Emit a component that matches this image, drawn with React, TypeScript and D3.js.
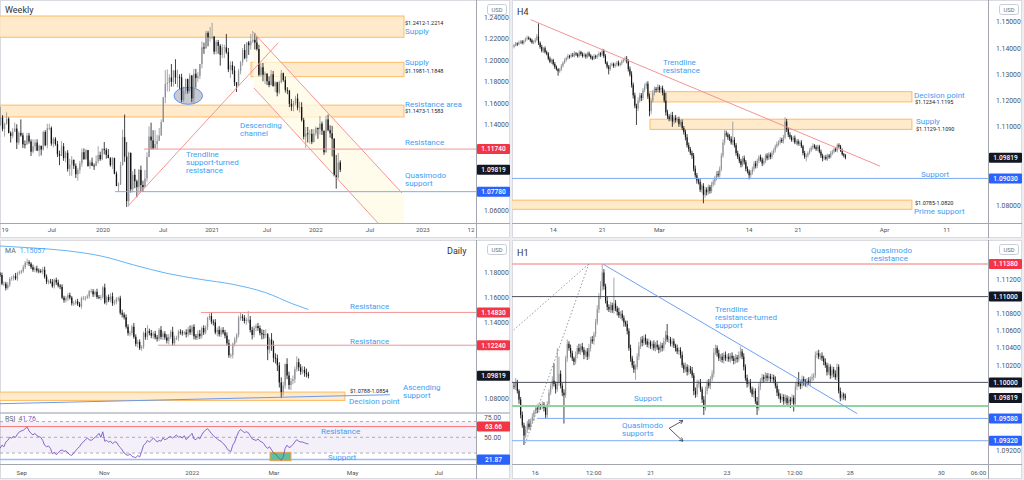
import React from 'react';
import * as d3 from 'd3';

const W = 1024;
const H = 480;
const FONT = 'Roboto, "Noto Sans", Arial, sans-serif';
const BULL = '#8e9196';
const BEAR = '#111111';
const NOTE_BLUE = '#3f9df3';
const ZONE_FILL = '#ffe6c2';
const ZONE_LINE = '#ffbb62';
const RED_LINE = '#f49494';
const BLUE_LINE = '#7eabf5';
const TAG_RED = '#f23645';
const TAG_BLUE = '#2962ff';
const TAG_BLACK = '#131722';
const AXIS_TEXT = '#50535e';
const SEP = '#a3a6af';

const lastPrice = 1.09819;

// ---------- Weekly (price x 10000), open = previous close
const weeklyOpen0 = 11400;
const weeklyClose = [
  11467, 11362, 11411, 11456, 11325, 11295, 11336, 11365, 11235, 11325,
  11302, 11218, 11216, 11300, 11245, 11150, 11200, 11234, 11160, 11205,
  11170, 11333, 11210, 11370, 11370, 11225, 11270, 11220, 11127, 11110,
  11200, 11090, 11140, 10990, 11030, 11075, 11018, 10940, 10980, 11040,
  11145, 11080, 11165, 11017, 11050, 11020, 11017, 11060, 11120, 11080,
  11175, 11165, 11120, 11090, 11025, 11090, 10945, 10830, 10845, 11025,
  11285, 11105, 10690, 11140, 10800, 10935, 10875, 10820, 10980, 10840,
  10820, 10900, 11100, 11290, 11255, 11180, 11220, 11250, 11300, 11425,
  11655, 11780, 11790, 11840, 11800, 11905, 11840, 11845, 11840, 11630,
  11715, 11825, 11715, 11860, 11645, 11875, 11835, 11855, 11965, 12120,
  12110, 12255, 12215, 12215, 12220, 12080, 12170, 12135, 12050, 12120,
  12120, 12075, 11915, 11955, 11905, 11795, 11765, 11900, 11980, 12095,
  12020, 12165, 12140, 12180, 12190, 12165, 12105, 11865, 11935, 11865,
  11875, 11805, 11770, 11870, 11760, 11795, 11700, 11795, 11880, 11815,
  11725, 11720, 11595, 11570, 11600, 11645, 11560, 11565, 11445, 11290,
  11320, 11315, 11315, 11240, 11320, 11370, 11360, 11410, 11345, 11145,
  11450, 11350, 11320, 11270, 10930, 10910, 11050, 10982,
];
const weeklyHigh = [
  11570, 11490, 11420, 11515, 11470, 11340, 11370, 11420, 11405, 11340,
  11450, 11325, 11255, 11325, 11325, 11265, 11265, 11265, 11265, 11215,
  11205, 11345, 11350, 11410, 11410, 11385, 11285, 11285, 11250, 11160,
  11250, 11230, 11155, 11165, 11085, 11110, 11075, 11040, 11000, 11065,
  11180, 11180, 11175, 11160, 11070, 11095, 11040, 11115, 11200, 11150,
  11185, 11240, 11185, 11175, 11100, 11100, 11095, 10965, 10865, 11055,
  11355, 11495, 11240, 11150, 11140, 10970, 10990, 10890, 10990, 11020,
  10880, 10980, 11145, 11385, 11420, 11350, 11350, 11305, 11370, 11450,
  11660, 11910, 11915, 11870, 11965, 11910, 12010, 11915, 11870, 11875,
  11755, 11830, 11830, 11880, 11860, 11920, 11920, 11890, 11965, 12175,
  12165, 12275, 12270, 12310, 12349, 12225, 12190, 12190, 12150, 12150,
  12145, 12245, 12115, 11990, 11990, 11945, 11790, 11920, 11995, 12115,
  12150, 12170, 12180, 12245, 12266, 12255, 12220, 12145, 11975, 11975,
  11895, 11880, 11850, 11910, 11900, 11805, 11800, 11810, 11910, 11885,
  11850, 11750, 11720, 11640, 11625, 11670, 11690, 11615, 11610, 11465,
  11380, 11380, 11355, 11360, 11360, 11385, 11375, 11482, 11430, 11320,
  11485, 11495, 11395, 11390, 11275, 11120, 11137, 11070,
];
const weeklyLow = [
  11390, 11340, 11290, 11400, 11320, 11235, 11275, 11335, 11175, 11215,
  11290, 11185, 11180, 11215, 11225, 11110, 11135, 11160, 11155, 11105,
  11115, 11160, 11200, 11180, 11350, 11205, 11190, 11205, 11100, 11025,
  11110, 11065, 11050, 10965, 10925, 10925, 10990, 10905, 10880, 10945,
  11010, 11075, 11075, 11010, 10990, 11015, 10980, 11040, 11040, 11065,
  11070, 11125, 11085, 11090, 11010, 10990, 10940, 10830, 10778, 10840,
  11020, 11055, 10635, 10640, 10770, 10770, 10810, 10725, 10760, 10780,
  10775, 10870, 10870, 11100, 11170, 11170, 11180, 11170, 11250, 11300,
  11425, 11600, 11710, 11710, 11755, 11755, 11780, 11750, 11735, 11610,
  11610, 11685, 11690, 11700, 11610, 11600, 11745, 11800, 11825, 11925,
  12060, 12125, 12130, 12175, 12195, 12055, 12055, 12060, 11950, 12020,
  12020, 12060, 11890, 11835, 11870, 11760, 11705, 11760, 11870, 11950,
  12010, 11985, 12050, 12100, 12160, 12100, 12090, 11850, 11850, 11805,
  11780, 11770, 11750, 11765, 11755, 11705, 11665, 11685, 11785, 11800,
  11700, 11685, 11565, 11530, 11525, 11580, 11535, 11515, 11430, 11265,
  11185, 11235, 11225, 11220, 11235, 11300, 11270, 11310, 11305, 11121,
  11140, 11340, 11280, 11106, 10920, 10806, 10900, 10960,
];
const weeklyPriceTicks = [1.06, 1.08, 1.1, 1.12, 1.14, 1.16, 1.18, 1.2, 1.22, 1.24];
const weeklyTickPos = [2.2, 25.3, 50.4, 79.9, 104, 131, 155, 181.6, 207.6, 231.2];
const weeklyTickText = ['19', 'Jul', '2020', 'Jul', '2021', 'Jul', '2022', 'Jul', '2023', '12'];
// zones: [fromBar, toBar, low, high]
const weeklyZones = [
  [-0.5, 198.3, 1.2214, 1.2412],
  [123.1, 198.3, 1.1848, 1.1981],
  [-0.5, 198.3, 1.1473, 1.1583],
];
const weeklyChannel = [[123.6, 1.2273], [198.3, 1.0746], [198.3, 1.0487], [185.5, 1.0487], [124.6, 1.1742]];
const weeklyChannelUpper = [[123.6, 1.2273], [197.3, 1.0766]];
const weeklyChannelLower = [[124.6, 1.1742], [185.5, 1.0487]];
const weeklyTrend = [[63.1, 1.0654], [136.4, 1.2161]];
const weeklyResistance = { price: 1.1174, from: 70.5 };
const weeklyQuasimodo = { price: 1.0778, from: 56.3 };
const weeklyEllipse = { bar: 92.3, price: 1.167, barR: 7.0, priceR: 0.0079 };

// ---------- H4 (pips above 1.0700), open = previous close
const h4Open0 = 705;
const h4Close = [
  712, 718, 715, 722, 725, 720, 728, 735, 740, 736,
  730, 722, 725, 732, 745, 720, 705, 690, 700, 685,
  680, 660, 648, 655, 640, 628, 620, 612, 618, 632,
  645, 655, 662, 670, 668, 675, 672, 680, 676, 670,
  685, 678, 670, 675, 668, 680, 672, 665, 660, 670,
  666, 672, 680, 675, 690, 670, 645, 630, 620, 635,
  640, 632, 638, 645, 636, 642, 650, 655, 660, 650,
  620, 600, 560, 520, 480, 470, 500, 520, 510, 540,
  555, 565, 515, 460, 500, 530, 545, 540, 552, 540,
  548, 530, 500, 455, 440, 430, 445, 420, 435, 425,
  430, 410, 418, 395, 380, 360, 330, 315, 300, 290,
  240, 215, 195, 190, 160, 175, 140, 160, 150, 170,
  155, 180, 190, 205, 220, 215, 240, 290, 340, 375,
  370, 360, 355, 340, 350, 330, 300, 285, 270, 255,
  280, 265, 240, 230, 215, 225, 240, 260, 250, 270,
  285, 275, 260, 270, 290, 280, 295, 285, 300, 310,
  325, 335, 340, 350, 345, 360, 420, 390, 370, 360,
  350, 358, 340, 345, 335, 340, 325, 300, 285, 290,
  300, 310, 320, 328, 322, 315, 325, 305, 290, 280,
  285, 278, 290, 285, 300, 305, 315, 310, 330, 325,
  310, 295, 290, 282,
];
const h4Up = [
  5, 6, 4, 7, 5, 6, 4, 6, 8, 5,
  4, 6, 5, 7, 9, 50, 6, 8, 5, 7,
  6, 5, 8, 6, 5, 7, 6, 4, 6, 8,
  5, 7, 6, 8, 5, 6, 7, 9, 5, 6,
  7, 5, 6, 8, 5, 6, 7, 5, 6, 8,
  5, 6, 7, 5, 8, 6, 7, 5, 6, 8,
  6, 5, 7, 6, 8, 5, 6, 7, 8, 10,
  8, 10, 12, 9, 10, 8, 12, 10, 9, 8,
  10, 7, 9, 12, 8, 10, 9, 7, 10, 8,
  8, 9, 12, 30, 10, 8, 9, 12, 8, 10,
  7, 9, 8, 10, 8, 9, 12, 10, 8, 9,
  10, 12, 9, 10, 12, 8, 10, 12, 9, 10,
  8, 10, 9, 8, 10, 12, 9, 10, 12, 13,
  10, 8, 12, 9, 70, 10, 8, 9, 10, 8,
  9, 10, 8, 9, 7, 10, 8, 9, 10, 8,
  7, 9, 8, 10, 7, 9, 8, 7, 9, 8,
  7, 9, 8, 10, 8, 9, 17, 10, 8, 9,
  8, 7, 9, 6, 8, 7, 9, 6, 8, 7,
  6, 8, 7, 9, 6, 8, 7, 6, 8, 7,
  6, 8, 7, 6, 8, 7, 6, 8, 6, 7,
  6, 7, 5, 6,
];
const h4Dn = [
  6, 5, 7, 4, 6, 5, 7, 5, 6, 4,
  6, 5, 7, 6, 5, 8, 7, 6, 8, 5,
  7, 6, 5, 8, 6, 7, 5, 17, 6, 5,
  6, 5, 7, 6, 8, 5, 6, 7, 5, 6,
  5, 7, 6, 5, 8, 6, 5, 7, 6, 5,
  7, 6, 5, 8, 6, 7, 6, 8, 20, 6,
  5, 7, 6, 8, 5, 6, 7, 5, 6, 8,
  9, 8, 10, 12, 9, 63, 10, 8, 12, 9,
  8, 10, 9, 20, 12, 8, 10, 9, 7, 10,
  9, 10, 8, 12, 10, 9, 8, 20, 10, 9,
  8, 10, 9, 8, 10, 12, 9, 10, 8, 12,
  10, 9, 12, 10, 9, 12, 32, 10, 12, 9,
  10, 8, 9, 12, 10, 8, 9, 10, 8, 9,
  8, 10, 9, 8, 10, 9, 10, 8, 9, 10,
  8, 9, 10, 8, 16, 9, 8, 10, 9, 8,
  9, 8, 10, 7, 9, 8, 7, 9, 8, 7,
  8, 7, 9, 8, 7, 9, 8, 10, 9, 8,
  7, 8, 6, 9, 7, 8, 6, 9, 7, 17,
  8, 6, 7, 8, 6, 7, 8, 6, 9, 12,
  7, 6, 8, 7, 6, 8, 7, 6, 8, 7,
  6, 5, 7, 6,
];
const h4PriceTicks = [1.08, 1.09, 1.1, 1.11, 1.12, 1.13, 1.14, 1.15];
const h4TickPos = [24, 54, 89, 144, 174, 227, 265];
const h4TickText = ['14', '21', 'Mar', '14', '21', 'Apr', '11'];
const h4Zones = [
  [82.7, 243.7, 1.1195, 1.1234],
  [83.3, 243.7, 1.109, 1.1129],
  [-2, 243.7, 1.0785, 1.082],
];
const h4Trend = [[10.2, 1.1509], [224.1, 1.095]];
const h4Support = 1.0903;

// ---------- Daily (pips above 1.0000), open = previous close
const dailyOpen0 = 1790;
const dailyClose = [
  1778, 1710, 1710, 1675, 1700, 1748, 1755, 1770, 1750, 1795, 1800, 1808,
  1840, 1875, 1880, 1868, 1840, 1820, 1830, 1813, 1810, 1805, 1820, 1765, 1725, 1728, 1725, 1690, 1740, 1720, 1695, 1685, 1600, 1580,
  1595, 1620, 1600, 1555, 1555, 1570, 1550, 1530, 1595, 1595, 1600, 1610, 1650, 1650, 1625, 1645, 1605, 1600, 1605, 1680, 1560,
  1605, 1580, 1610, 1555, 1565, 1590, 1595, 1480, 1465, 1445, 1370, 1320, 1320, 1370, 1290, 1235, 1250, 1200, 1210, 1320, 1290, 1335,
  1320, 1300, 1315, 1285, 1275, 1345, 1290, 1315, 1285, 1260, 1290, 1330, 1240, 1280, 1280, 1330, 1325, 1320, 1325, 1310, 1350, 1325, 1370,
  1295, 1285, 1315, 1295, 1360, 1325, 1365, 1440, 1455, 1410, 1405, 1325, 1345, 1310, 1345, 1325, 1300, 1240, 1145, 1145, 1235,
  1270, 1305, 1440, 1450, 1440, 1415, 1425, 1425, 1345, 1305, 1360, 1375, 1360, 1320, 1310, 1305, 1310, 1190, 1270, 1220,
  1125, 1120, 1065, 930, 855, 905, 1075, 985, 910, 940, 955, 1035, 1090, 1050, 1015, 1030, 1005, 995, 982,
];
const dailyUp = [
  12, 20, 18, 15, 22, 14, 16, 12, 25, 10, 15, 12,
  18, 14, 29, 15, 12, 20, 16, 22, 18, 15, 20, 25, 18, 15, 20, 22, 10, 18, 22, 12, 20, 15,
  18, 15, 20, 12, 18, 15, 20, 16, 14, 18, 12, 15, 10, 20, 18, 12, 25, 15, 18, 12, 30,
  12, 20, 25, 30, 18, 15, 12, 20, 25, 18, 22, 20, 18, 15, 30, 20, 18, 20, 15, 12, 40, 48,
  20, 25, 18, 22, 20, 15, 30, 18, 20, 25, 22, 15, 40, 20, 18, 15, 20, 18, 12, 25, 20, 30, 15,
  20, 18, 25, 30, 12, 22, 15, 10, 20, 27, 18, 25, 20, 30, 18, 22, 20, 25, 30, 15, 10,
  20, 15, 18, 33, 20, 22, 18, 70, 30, 25, 20, 18, 25, 20, 30, 35, 40, 10, 18, 50,
  40, 35, 30, 25, 40, 30, 5, 46, 30, 25, 30, 20, 47, 30, 25, 30, 25, 35, 20,
];
const dailyDn = [
  15, 12, 20, 18, 11, 16, 15, 20, 12, 18, 14, 15,
  12, 15, 20, 18, 14, 16, 20, 15, 18, 12, 22, 15, 18, 20, 15, 12, 18, 20, 15, 18, 12, 20,
  18, 22, 15, 18, 20, 12, 15, 6, 18, 15, 20, 12, 18, 15, 20, 18, 15, 12, 20, 15, 12,
  20, 15, 18, 20, 15, 18, 20, 15, 22, 18, 15, 20, 25, 18, 15, 20, 30, 14, 20, 15, 22, 25,
  18, 20, 25, 15, 22, 18, 20, 25, 18, 22, 30, 15, 18, 20, 15, 22, 18, 20, 15, 25, 18, 20, 22,
  25, 18, 20, 22, 18, 20, 15, 22, 18, 20, 25, 15, 30, 18, 20, 15, 22, 18, 20, 24, 25,
  20, 25, 18, 22, 25, 20, 30, 25, 20, 35, 20, 25, 22, 18, 40, 30, 25, 84, 30, 40,
  35, 40, 45, 40, 49, 30, 25, 30, 35, 40, 25, 30, 20, 30, 25, 20, 30, 25, 20,
];
const dailyMaBar = [0, 17, 34, 52, 69, 86, 103, 120, 137, 151, 159];
const dailyMaValue = [1.2008, 1.1992, 1.1971, 1.1929, 1.1858, 1.1792, 1.1745, 1.1705, 1.1639, 1.155, 1.15057];
const dailyRsi = [
  36, 40, 38, 44, 46, 50, 49, 51, 50, 54,
  57, 58, 59, 61, 63, 58, 55, 53, 55, 52,
  51, 50, 46, 40, 38, 39, 36, 29, 31, 28,
  30, 33, 34, 32, 33, 30, 28, 27, 30, 33,
  36, 38, 42, 44, 47, 49, 47, 46, 48, 50,
  52, 55, 50, 57, 45, 46, 44, 45, 42, 44,
  44, 40, 37, 34, 30, 28, 27, 29, 26, 25,
  24, 27, 25, 32, 40, 42, 46, 44, 46, 49,
  47, 44, 46, 45, 49, 47, 48, 50, 51, 49,
  51, 53, 50, 51, 49, 52, 47, 50, 52, 55,
  48, 47, 50, 48, 53, 57, 59, 61, 58, 55,
  52, 50, 48, 46, 45, 42, 40, 36, 33, 32,
  40, 44, 51, 57, 60, 58, 56, 57, 56, 52,
  48, 47, 46, 48, 45, 44, 42, 38, 36, 38,
  34, 30, 29, 26, 23, 21, 25, 36, 40, 37,
  38, 41, 44, 47, 45, 44, 44, 43, 42, 41.76,
];
const dailyPriceTicks = [1.08, 1.1, 1.12, 1.14, 1.16, 1.18, 1.2];
const rsiTicks = [25, 50, 75];
const dailyTickPos = [11.2, 53.8, 99.1, 141.2, 181.8, 226.3];
const dailyTickText = ['Sep', 'Nov', '2022', 'Mar', 'May', 'Jul'];
const dailyResistances = [{ price: 1.1483, from: 103.6 }, { price: 1.1224, from: 81.4 }];
const dailyZone = [-1, 177.8, 1.0788, 1.0854];
const dailyAscending = [[0, 1.0762], [201, 1.0833]];
const rsiResistance = 63.66;
const rsiSupport = 21.87;
const rsiBox = [139.2, 150, 20.3, 30.9];

// ---------- H1 (pips above 1.0900), open = previous close
const h1Open0 = 96;
const h1Close = [
  95, 100, 90, 80, 62, 50, 38, 45, 52, 48,
  55, 60, 66, 70, 68, 73, 72, 74, 70, 62,
  75, 88, 96, 102, 98, 92, 100, 110, 96, 88,
  85, 128, 145, 140, 134, 128, 124, 132, 140, 136,
  142, 138, 132, 136, 130, 140, 150, 148, 156, 170,
  185, 200, 212, 228, 212, 195, 188, 185, 190, 184,
  192, 186, 182, 178, 180, 175, 170, 168, 160, 140,
  128, 120, 115, 118, 130, 142, 150, 146, 152, 148,
  144, 147, 142, 145, 140, 144, 141, 138, 143, 140,
  148, 155, 150, 150, 145, 148, 143, 140, 136, 138,
  132, 120, 115, 118, 112, 116, 114, 108, 90, 86,
  98, 100, 92, 80, 70, 90, 100, 96, 104, 110,
  135, 140, 134, 128, 130, 126, 132, 128, 130, 127,
  131, 128, 125, 129, 127, 132, 136, 130, 118, 105,
  98, 100, 92, 86, 90, 78, 70, 95, 102, 106,
  104, 108, 105, 107, 104, 106, 103, 96, 88, 84,
  80, 83, 78, 82, 76, 80, 78, 82, 75, 95,
  100, 98, 96, 104, 100, 98, 102, 100, 104, 106,
  108, 132, 134, 130, 131, 128, 124, 120, 112, 118,
  108, 115, 110, 106, 118, 90, 82, 86, 84, 82,
];
const h1Up = [
  4, 5, 3, 2, 3, 4, 3, 4, 3, 5,
  3, 4, 2, 3, 4, 3, 2, 4, 3, 2,
  3, 4, 3, 5, 20, 3, 40, 20, 4, 3,
  4, 3, 5, 3, 4, 3, 2, 4, 3, 5,
  3, 4, 3, 2, 4, 5, 3, 4, 3, 4,
  5, 4, 6, 10, 4, 3, 5, 3, 4, 3,
  30, 4, 3, 5, 3, 4, 3, 2, 4, 3,
  4, 3, 5, 3, 4, 5, 3, 4, 3, 4,
  3, 4, 2, 3, 4, 3, 5, 3, 4, 3,
  4, 5, 13, 4, 3, 4, 3, 2, 4, 3,
  3, 4, 3, 5, 3, 4, 3, 4, 3, 4,
  5, 3, 4, 3, 4, 5, 3, 4, 3, 4,
  5, 4, 3, 4, 3, 4, 3, 4, 3, 4,
  3, 4, 3, 4, 3, 4, 6, 3, 4, 3,
  4, 3, 4, 3, 4, 3, 5, 4, 3, 4,
  3, 4, 3, 4, 3, 4, 3, 4, 3, 4,
  3, 4, 3, 4, 3, 4, 3, 4, 3, 5,
  4, 12, 3, 4, 3, 4, 3, 4, 3, 4,
  3, 4, 3, 4, 3, 4, 3, 4, 3, 4,
  3, 4, 3, 4, 4, 3, 4, 3, 2, 3,
];
const h1Dn = [
  3, 4, 3, 5, 4, 3, 11, 3, 4, 3,
  4, 3, 5, 3, 4, 3, 4, 3, 4, 4,
  3, 4, 3, 4, 3, 5, 3, 4, 3, 4,
  33, 3, 4, 3, 5, 3, 4, 3, 4, 3,
  4, 3, 5, 3, 4, 3, 4, 3, 4, 3,
  3, 4, 3, 5, 4, 3, 4, 3, 4, 3,
  4, 3, 4, 3, 4, 3, 5, 3, 4, 3,
  4, 3, 4, 12, 3, 4, 3, 4, 3, 4,
  3, 4, 3, 4, 3, 4, 3, 4, 3, 4,
  3, 4, 3, 4, 3, 4, 3, 4, 3, 4,
  4, 3, 4, 3, 4, 3, 4, 3, 5, 4,
  3, 4, 3, 4, 8, 3, 4, 3, 4, 3,
  4, 3, 4, 3, 4, 3, 4, 3, 4, 3,
  4, 3, 4, 3, 4, 3, 4, 3, 4, 3,
  4, 3, 4, 3, 4, 3, 8, 3, 4, 3,
  4, 3, 4, 3, 4, 3, 4, 3, 4, 3,
  4, 3, 4, 3, 4, 3, 8, 3, 9, 3,
  4, 3, 4, 3, 4, 3, 4, 3, 4, 3,
  4, 3, 4, 3, 4, 3, 4, 3, 4, 3,
  4, 3, 4, 3, 4, 3, 4, 3, 4, 3,
];
const h1PriceTicks = [1.092, 1.094, 1.096, 1.098, 1.1, 1.102, 1.104, 1.106, 1.108, 1.11, 1.112, 1.114, 1.116];
const h1TickPos = [12.8, 47.9, 82.1, 127.9, 168.6, 202, 256.6, 279];
const h1TickText = ['16', '12:00', '21', '23', '12:00', '28', '30', '06:00'];
const h1QmResistance = 1.1138;
const h1Round = [1.11, 1.1];
const h1Green = 1.09725;
const h1QmSupports = [{ price: 1.0958, from: 13.8 }, { price: 1.0932, from: -2 }];
const h1Trend = [[53.6, 1.11377], [206.2, 1.09635]];
const h1Dotted = [
  [[-0.2, 1.10611], [44.9, 1.1138]],
  [[6.8, 1.0929], [44.9, 1.1138]],
];
const h1Arrow = { from: [93.2, 1.09465], to: [[101.3, 1.09553], [101.3, 1.09317]] };

type Candle = { o: number; h: number; l: number; c: number };
type Sc = d3.ScaleLinear<number, number>;

function candlesFromHL(open0: number, close: number[], high: number[], low: number[]): Candle[] {
  let o = open0;
  return close.map((c, k) => {
    const bar = {
      o: o / 1e4,
      c: c / 1e4,
      h: Math.max(high[k], o, c) / 1e4,
      l: Math.min(low[k], o, c) / 1e4,
    };
    o = c;
    return bar;
  });
}

function candlesFromWicks(base: number, open0: number, close: number[], up: number[], dn: number[]): Candle[] {
  let o = open0;
  return close.map((c, k) => {
    const bar = {
      o: base + o / 1e4,
      c: base + c / 1e4,
      h: base + (Math.max(o, c) + up[k]) / 1e4,
      l: base + (Math.min(o, c) - dn[k]) / 1e4,
    };
    o = c;
    return bar;
  });
}

function Candles({ data, x, y, w }: { data: Candle[]; x: Sc; y: Sc; w: number }) {
  return (
    <g>
      {data.map((d, i) => {
        const col = d.c >= d.o ? BULL : BEAR;
        const cx = x(i);
        const top = y(Math.max(d.o, d.c));
        const bot = y(Math.min(d.o, d.c));
        return (
          <g key={i}>
            <line x1={cx} x2={cx} y1={y(d.h)} y2={y(d.l)} stroke={col} strokeWidth={0.8} />
            <rect x={cx - w / 2} y={top} width={w} height={Math.max(0.8, bot - top)} fill={col} />
          </g>
        );
      })}
    </g>
  );
}

function frame(left: number, top: number, width: number, height: number, plotRight: number, plotBottom: number) {
  return (
    <g>
      <rect x={left + 0.5} y={top + 0.5} width={width - 1} height={height - 1} fill="#fff" stroke="#d9dbe0" />
      <line x1={plotRight + 0.5} x2={plotRight + 0.5} y1={top} y2={top + height} stroke={SEP} />
      <line x1={left} x2={left + width} y1={plotBottom + 0.5} y2={plotBottom + 0.5} stroke={SEP} />
    </g>
  );
}

// tick labels that sit under a price tag or the USD box are hidden, as on the chart
function priceTicks(ticks: number[], y: Sc, plotRight: number, fmt: (v: number) => string, tagged: number[], top: number) {
  return ticks
    .filter((t) => tagged.every((v) => Math.abs(y(t) - y(v)) > 8.5) && y(t) > top + 16)
    .map((t) => (
      <text key={'p' + t} x={plotRight + 8} y={y(t) + 2.4} fontSize={6.8} fill={AXIS_TEXT}>
        {fmt(t)}
      </text>
    ));
}

function timeTicks(pos: number[], text: string[], x: Sc, baseline: number) {
  return pos.map((p, k) => (
    <text key={'t' + k} x={x(p)} y={baseline} textAnchor="middle" fontSize={6.2} fill={AXIS_TEXT}>
      {text[k]}
    </text>
  ));
}

function tag(v: number, label: string, color: string, y: Sc, plotRight: number) {
  const cy = y(v);
  return (
    <g key={'g' + label + color}>
      <rect x={plotRight + 1} y={cy - 5} width={33} height={10} fill={color} rx={1} />
      <text x={plotRight + 17.5} y={cy + 2.4} textAnchor="middle" fontSize={6.6} fill="#fff" fontWeight={500}>
        {label}
      </text>
    </g>
  );
}

function usd(plotRight: number, top: number) {
  return (
    <g>
      <rect x={plotRight + 11.5} y={top + 4.5} width={19} height={10} rx={2} fill="#fff" stroke="#c9ccd3" />
      <text x={plotRight + 21} y={top + 11.6} fontSize={5.8} textAnchor="middle" fill="#6a6d78">
        USD
      </text>
    </g>
  );
}

function note(x: number, y: number, lines: string[], size = 8, color = NOTE_BLUE) {
  return (
    <text x={x} y={y} fontSize={size} fill={color}>
      {lines.map((l, k) => (
        <tspan key={k} x={x} dy={k ? size * 1.03 : 0}>
          {l}
        </tspan>
      ))}
    </text>
  );
}

function zoneRect(z: number[], x: Sc, y: Sc, key: string) {
  return (
    <rect
      key={key}
      x={x(z[0])}
      y={y(z[3])}
      width={x(z[1]) - x(z[0])}
      height={y(z[2]) - y(z[3])}
      fill={ZONE_FILL}
      fillOpacity={0.85}
      stroke={ZONE_LINE}
      strokeWidth={1}
    />
  );
}

function seg(pts: number[][], x: Sc, y: Sc, stroke: string, extra: Record<string, any> = {}) {
  return <line x1={x(pts[0][0])} y1={y(pts[0][1])} x2={x(pts[1][0])} y2={y(pts[1][1])} stroke={stroke} strokeWidth={1} {...extra} />;
}

export default function App() {
  const fmt5 = d3.format('.5f');
  const fmt2 = d3.format('.2f');
  const lastLabel = fmt5(lastPrice);

  // Weekly
  const wX = d3.scaleLinear().domain([0, 233.7]).range([0.5, 476]);
  const wY = d3.scaleLinear().domain([1.24, 1.06]).range([17.3, 210.8]);
  const weekly = candlesFromHL(weeklyOpen0, weeklyClose, weeklyHigh, weeklyLow);
  const chanPath = d3.line<number[]>().x((d) => wX(d[0])).y((d) => wY(d[1]))(weeklyChannel) + 'Z';

  // H4
  const h4X = d3.scaleLinear().domain([-1.225, 290.3]).range([512, 988]);
  const h4Y = d3.scaleLinear().domain([1.15, 1.08]).range([22, 205.4]);
  const h4 = candlesFromWicks(1.07, h4Open0, h4Close, h4Up, h4Dn);

  // Daily
  const dX = d3.scaleLinear().domain([0, 245.4]).range([0, 476]);
  const dY = d3.scaleLinear().domain([1.18, 1.08]).range([272.3, 398.9]);
  const rY = d3.scaleLinear().domain([50, 75]).range([437.3, 417.6]);
  const daily = candlesFromWicks(1.0, dailyOpen0, dailyClose, dailyUp, dailyDn);
  const maPath = d3
    .line<number>()
    .x((_, k) => dX(dailyMaBar[k]))
    .y((v) => dY(v))
    .curve(d3.curveMonotoneX)(dailyMaValue) as string;
  const rsiPath = d3
    .line<number>()
    .x((_, k) => dX(k))
    .y((v) => rY(v))(dailyRsi) as string;

  // H1
  const h1X = d3.scaleLinear().domain([-1.2, 284.7]).range([512, 988]);
  const h1Y = d3.scaleLinear().domain([1.1138, 1.092]).range([264, 451]);
  const h1 = candlesFromWicks(1.09, h1Open0, h1Close, h1Up, h1Dn);

  const ellRx = wX(weeklyEllipse.barR) - wX(0);
  const ellRy = wY(weeklyEllipse.price - weeklyEllipse.priceR) - wY(weeklyEllipse.price);

  return (
    <div style={{ width: W, height: H }}>
      <style>{'body{margin:0;background:#fff}'}</style>
      <svg width={W} height={H} style={{ display: 'block', fontFamily: FONT, background: '#eceef2' }}>
        <defs>
          <clipPath id="cW"><rect x={0} y={0} width={476} height={223} /></clipPath>
          <clipPath id="cH4"><rect x={512} y={0} width={476} height={223} /></clipPath>
          <clipPath id="cD"><rect x={0} y={240} width={476} height={172} /></clipPath>
          <clipPath id="cR"><rect x={0} y={414} width={476} height={50} /></clipPath>
          <clipPath id="cH1"><rect x={512} y={240} width={476} height={224} /></clipPath>
          <marker id="arr" viewBox="0 0 6 6" refX={5} refY={3} markerWidth={5} markerHeight={5} orient="auto">
            <path d="M0,0 L6,3 L0,6" fill="none" stroke="#333" strokeWidth={1} />
          </marker>
        </defs>

        {/* ---------------- Weekly ---------------- */}
        {frame(0, 0, 510, 238, 476, 223)}
        <g clipPath="url(#cW)">
          {weeklyZones.map((z, k) => zoneRect(z, wX, wY, 'wz' + k))}
          <path d={chanPath} fill="#fffbe6" fillOpacity={0.75} />
          <ellipse cx={wX(weeklyEllipse.bar)} cy={wY(weeklyEllipse.price)} rx={ellRx} ry={ellRy} fill="#b9bdc8" fillOpacity={0.8} stroke="#5d8ff0" strokeWidth={1} />
          <Candles data={weekly} x={wX} y={wY} w={1.3} />
          <line x1={wX(weeklyResistance.from)} x2={476} y1={wY(weeklyResistance.price)} y2={wY(weeklyResistance.price)} stroke={RED_LINE} />
          <line x1={wX(weeklyQuasimodo.from)} x2={476} y1={wY(weeklyQuasimodo.price)} y2={wY(weeklyQuasimodo.price)} stroke={BLUE_LINE} />
          {seg(weeklyChannelUpper, wX, wY, RED_LINE)}
          {seg(weeklyChannelLower, wX, wY, RED_LINE)}
          {seg(weeklyTrend, wX, wY, RED_LINE)}
        </g>
        {note(5, 12.5, ['Weekly'], 9, '#333')}
        {note(405, 24.8, ['$1.2412-1.2214'], 5.5, '#222')}
        {note(405, 33.6, ['Supply'])}
        {note(405, 65, ['Supply'])}
        {note(405, 72.8, ['$1.1981-1.1848'], 5.5, '#222')}
        {note(405, 106.6, ['Resistance area'])}
        {note(405, 113.4, ['$1.1473-1.1583'], 5.5, '#222')}
        {note(405, 145, ['Resistance'])}
        {note(405, 178, ['Quasimodo', 'support'])}
        {note(240, 128, ['Descending', 'channel'])}
        {note(186, 157, ['Trendline', 'support-turned', 'resistance'])}
        {priceTicks(weeklyPriceTicks, wY, 476, fmt5, [weeklyResistance.price, lastPrice, weeklyQuasimodo.price], 0)}
        {tag(weeklyResistance.price, fmt5(weeklyResistance.price), TAG_RED, wY, 476)}
        {tag(lastPrice, lastLabel, TAG_BLACK, wY, 476)}
        {tag(weeklyQuasimodo.price, fmt5(weeklyQuasimodo.price), TAG_BLUE, wY, 476)}
        {usd(476, 0)}
        {timeTicks(weeklyTickPos, weeklyTickText, wX, 232)}

        {/* ---------------- H4 ---------------- */}
        {frame(512, 0, 510, 238, 988, 223)}
        <g clipPath="url(#cH4)">
          {h4Zones.map((z, k) => zoneRect(z, h4X, h4Y, 'hz' + k))}
          <Candles data={h4} x={h4X} y={h4Y} w={1.1} />
          <line x1={512} x2={988} y1={h4Y(h4Support)} y2={h4Y(h4Support)} stroke={BLUE_LINE} />
          {seg(h4Trend, h4X, h4Y, RED_LINE)}
        </g>
        {note(517, 15, ['H4'], 9, '#333')}
        {note(663, 65, ['Trendline', 'resistance'])}
        {note(914, 98, ['Decision point'])}
        {note(915, 104.4, ['$1.1234-1.1195'], 5.5, '#222')}
        {note(916, 124, ['Supply'])}
        {note(916, 131.4, ['$1.1129-1.1090'], 5.5, '#222')}
        {note(921, 177, ['Support'])}
        {note(915, 205.2, ['$1.0785-1.0820'], 5.5, '#222')}
        {note(914, 214, ['Prime support'])}
        {priceTicks(h4PriceTicks, h4Y, 988, fmt5, [lastPrice, h4Support], 0)}
        {tag(lastPrice, lastLabel, TAG_BLACK, h4Y, 988)}
        {tag(h4Support, fmt5(h4Support), TAG_BLUE, h4Y, 988)}
        {usd(988, 0)}
        {timeTicks(h4TickPos, h4TickText, h4X, 232)}

        {/* ---------------- Daily + RSI ---------------- */}
        {frame(0, 240, 510, 239, 476, 464)}
        <g clipPath="url(#cD)">
          {zoneRect(dailyZone, dX, dY, 'dz')}
          <path d={maPath} fill="none" stroke="#64b5f6" strokeWidth={1} />
          <Candles data={daily} x={dX} y={dY} w={1.3} />
          {dailyResistances.map((r, k) => (
            <line key={'dr' + k} x1={dX(r.from)} x2={476} y1={dY(r.price)} y2={dY(r.price)} stroke={RED_LINE} />
          ))}
          {seg(dailyAscending, dX, dY, '#6c98f0')}
        </g>
        <line x1={0} x2={510} y1={413} y2={413} stroke="#b8bbc4" strokeWidth={1.5} />
        <g clipPath="url(#cR)">
          <rect x={0} y={rY(70)} width={476} height={rY(30) - rY(70)} fill="#7e57c2" fillOpacity={0.09} />
          {[70, 50, 30].map((v) => (
            <line key={'rl' + v} x1={0} x2={476} y1={rY(v)} y2={rY(v)} stroke="#9a9ca4" strokeDasharray="3,3" strokeWidth={0.8} />
          ))}
          <line x1={0} x2={476} y1={rY(rsiResistance)} y2={rY(rsiResistance)} stroke="#f47a7a" strokeWidth={1} />
          <line x1={0} x2={476} y1={rY(rsiSupport)} y2={rY(rsiSupport)} stroke="#9dbdf7" strokeWidth={1.6} />
          <rect x={dX(rsiBox[0])} y={rY(rsiBox[3])} width={dX(rsiBox[1]) - dX(rsiBox[0])} height={rY(rsiBox[2]) - rY(rsiBox[3])} fill="#5fbf9f" stroke="#f0a348" strokeWidth={1} />
          <path d={rsiPath} fill="none" stroke="#7e57c2" strokeWidth={0.9} />
        </g>
        <text x={5} y={253} fontSize={7}>
          <tspan fill="#666">MA</tspan>
          <tspan dx={4} fill="#42a5f5">{fmt5(dailyMaValue[dailyMaValue.length - 1])}</tspan>
        </text>
        <text x={5} y={421} fontSize={7}>
          <tspan fill="#666">RSI</tspan>
          <tspan dx={3} fill="#7e57c2">{fmt2(dailyRsi[dailyRsi.length - 1])}</tspan>
        </text>
        {note(447, 253.6, ['Daily'], 9, '#333')}
        {note(350, 309, ['Resistance'])}
        {note(350, 344, ['Resistance'])}
        {note(350, 393.2, ['$1.0788-1.0854'], 5.5, '#222')}
        {note(349, 404, ['Decision point'])}
        {note(403, 390, ['Ascending', 'support'])}
        {note(321, 434, ['Resistance'])}
        {note(328, 459.6, ['Support'])}
        {priceTicks(dailyPriceTicks, dY, 476, fmt5, [dailyResistances[0].price, dailyResistances[1].price, lastPrice], 240)}
        {tag(dailyResistances[0].price, fmt5(dailyResistances[0].price), TAG_RED, dY, 476)}
        {tag(dailyResistances[1].price, fmt5(dailyResistances[1].price), TAG_RED, dY, 476)}
        {tag(lastPrice, lastLabel, TAG_BLACK, dY, 476)}
        {priceTicks(rsiTicks, rY, 476, fmt2, [rsiResistance, rsiSupport], 240)}
        {tag(rsiResistance, fmt2(rsiResistance), TAG_RED, rY, 476)}
        {tag(rsiSupport, fmt2(rsiSupport), TAG_BLUE, rY, 476)}
        {usd(476, 240)}
        {timeTicks(dailyTickPos, dailyTickText, dX, 474.5)}

        {/* ---------------- H1 ---------------- */}
        {frame(512, 240, 510, 239, 988, 464)}
        <g clipPath="url(#cH1)">
          <Candles data={h1} x={h1X} y={h1Y} w={1.1} />
          <line x1={512} x2={988} y1={h1Y(h1QmResistance)} y2={h1Y(h1QmResistance)} stroke="#f7a3a3" strokeWidth={1.4} />
          {h1Round.map((p) => (
            <line key={'hr' + p} x1={512} x2={988} y1={h1Y(p)} y2={h1Y(p)} stroke="#3a3d45" strokeWidth={0.9} />
          ))}
          <line x1={512} x2={988} y1={h1Y(h1Green)} y2={h1Y(h1Green)} stroke="#8fd3a0" strokeWidth={2} />
          {h1QmSupports.map((s, k) => (
            <line key={'hq' + k} x1={h1X(s.from)} x2={988} y1={h1Y(s.price)} y2={h1Y(s.price)} stroke={BLUE_LINE} strokeWidth={1} />
          ))}
          {seg(h1Trend, h1X, h1Y, '#6fa0f3')}
          {h1Dotted.map((d, k) => (
            <g key={'hd' + k}>{seg(d, h1X, h1Y, '#8a8d95', { strokeDasharray: '1.5,2', strokeWidth: 0.9 })}</g>
          ))}
          {h1Arrow.to.map((t, k) => (
            <line
              key={'ha' + k}
              x1={h1X(h1Arrow.from[0])}
              y1={h1Y(h1Arrow.from[1])}
              x2={h1X(t[0])}
              y2={h1Y(t[1])}
              stroke="#333"
              strokeWidth={0.8}
              markerEnd="url(#arr)"
            />
          ))}
        </g>
        {note(517, 256, ['H1'], 9, '#333')}
        {note(871, 253, ['Quasimodo', 'resistance'])}
        {note(715, 312, ['Trendline', 'resistance-turned', 'support'])}
        {note(634, 401, ['Support'])}
        {note(622, 428, ['Quasimodo', 'supports'])}
        {priceTicks(h1PriceTicks, h1Y, 988, fmt5, [h1QmResistance, ...h1Round, lastPrice, ...h1QmSupports.map((s) => s.price)], 240)}
        {tag(h1QmResistance, fmt5(h1QmResistance), TAG_RED, h1Y, 988)}
        {h1Round.map((p) => tag(p, fmt5(p), TAG_BLACK, h1Y, 988))}
        {tag(lastPrice, lastLabel, TAG_BLACK, h1Y, 988)}
        {h1QmSupports.map((s) => tag(s.price, fmt5(s.price), TAG_BLUE, h1Y, 988))}
        {usd(988, 240)}
        {timeTicks(h1TickPos, h1TickText, h1X, 474.5)}
      </svg>
    </div>
  );
}
